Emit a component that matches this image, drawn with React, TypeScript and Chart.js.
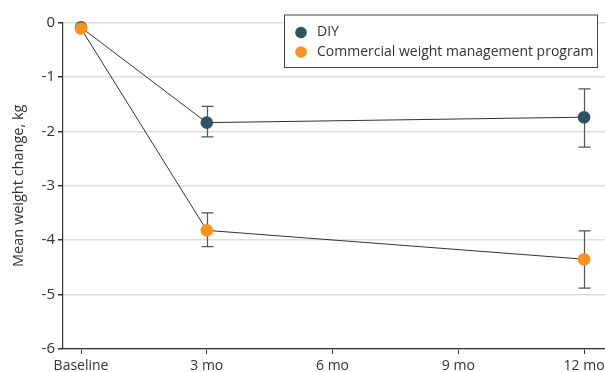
import React, { useEffect, useRef } from "react";
import { Chart, registerables } from "chart.js";

Chart.register(...registerables);

const months = [0, 3, 12];
const diyMean = [-0.09, -1.84, -1.74];
const diyLower = [null, -2.1, -2.29];
const diyUpper = [null, -1.54, -1.22];
const cwmpMean = [-0.11, -3.82, -4.35];
const cwmpLower = [null, -4.12, -4.88];
const cwmpUpper = [null, -3.5, -3.83];

const xTickValues = [0, 3, 6, 9, 12];
const xTickLabels = ["Baseline", "3 mo", "6 mo", "9 mo", "12 mo"];
const yTickValues = [0, -1, -2, -3, -4, -5, -6];

const seriesNames = ["DIY", "Commercial weight management program"];
const seriesColors = ["#2d5463", "#f7941d"];

const FONT = "'Open Sans', sans-serif";

const errorBarPlugin = {
  id: "errorBars",
  beforeDatasetsDraw(chart: any) {
    const { ctx, scales } = chart;
    const x = scales.x;
    const y = scales.y;
    const sets = [
      { lo: diyLower, hi: diyUpper },
      { lo: cwmpLower, hi: cwmpUpper },
    ];
    ctx.save();
    ctx.strokeStyle = "#555555";
    ctx.lineWidth = 1.2;
    sets.forEach((s) => {
      months.forEach((m, i) => {
        const lo = s.lo[i];
        const hi = s.hi[i];
        if (lo == null || hi == null) return;
        const px = Math.round(x.getPixelForValue(m)) + 0.5;
        const py1 = y.getPixelForValue(lo);
        const py2 = y.getPixelForValue(hi);
        ctx.beginPath();
        ctx.moveTo(px, py1);
        ctx.lineTo(px, py2);
        ctx.moveTo(px - 6, py1);
        ctx.lineTo(px + 6, py1);
        ctx.moveTo(px - 6, py2);
        ctx.lineTo(px + 6, py2);
        ctx.stroke();
      });
    });
    ctx.restore();
  },
};

const legendPlugin = {
  id: "boxLegend",
  afterDraw(chart: any) {
    const { ctx } = chart;
    const left = 284;
    const top = 14.5;
    const right = 598;
    const bottom = 68;
    ctx.save();
    ctx.fillStyle = "#ffffff";
    ctx.fillRect(left, top, right - left, bottom - top);
    ctx.strokeStyle = "#444444";
    ctx.lineWidth = 1;
    ctx.strokeRect(left + 0.5, top + 0.5, right - left - 1, bottom - top - 1);
    ctx.font = `14px ${FONT}`;
    ctx.textBaseline = "middle";
    seriesNames.forEach((name, i) => {
      const cy = 32.5 + i * 19.5;
      ctx.beginPath();
      ctx.fillStyle = seriesColors[i];
      ctx.arc(301, cy, 5.8, 0, Math.PI * 2);
      ctx.fill();
      ctx.fillStyle = "#333333";
      ctx.fillText(name, 317, cy);
    });
    ctx.restore();
  },
};

export default function App() {
  const ref = useRef<HTMLCanvasElement>(null);
  useEffect(() => {
    document.body.style.margin = "0";
    const mk = (vals: number[]) => months.map((m, i) => ({ x: m, y: vals[i] }));
    const chart = new Chart(ref.current as HTMLCanvasElement, {
      type: "line",
      data: {
        datasets: [
          {
            label: seriesNames[0],
            data: mk(diyMean),
            borderColor: "#333333",
            borderWidth: 1,
            pointRadius: 6.3,
            pointBackgroundColor: seriesColors[0],
            pointBorderColor: seriesColors[0],
            pointBorderWidth: 0,
            order: 1,
            clip: 12,
          },
          {
            label: seriesNames[1],
            data: mk(cwmpMean),
            borderColor: "#333333",
            borderWidth: 1,
            pointRadius: 6.3,
            pointBackgroundColor: seriesColors[1],
            pointBorderColor: seriesColors[1],
            pointBorderWidth: 0,
            order: 0,
            clip: 12,
          },
        ],
      },
      options: {
        animation: false,
        responsive: false,
        maintainAspectRatio: false,
        layout: { autoPadding: false, padding: { top: 22.5, right: 0, left: 0, bottom: 0 } },
        plugins: {
          legend: { display: false },
          tooltip: { enabled: false },
        },
        scales: {
          x: {
            type: "linear",
            min: -0.43,
            max: 12.5,
            afterBuildTicks(scale: any) {
              scale.ticks = xTickValues.map((v) => ({ value: v }));
            },
            afterFit(scale: any) {
              scale.height = 23;
              scale.paddingLeft = 0;
              scale.paddingRight = 0;
            },
            grid: {
              display: true,
              drawOnChartArea: false,
              drawTicks: true,
              tickLength: 5,
              color: "#333333",
              lineWidth: 1,
            },
            border: { display: true, color: "#333333", width: 1.2 },
            ticks: {
              color: "#333333",
              font: { family: FONT, size: 14 },
              padding: 4,
              maxRotation: 0,
              autoSkip: false,
              callback: (v: any) => {
                const i = xTickValues.indexOf(v);
                return i >= 0 ? xTickLabels[i] : "";
              },
            },
          },
          y: {
            min: -6,
            max: 0,
            afterBuildTicks(scale: any) {
              scale.ticks = yTickValues.map((v) => ({ value: v }));
            },
            afterFit(scale: any) {
              scale.width = 63;
              scale.paddingTop = 0;
              scale.paddingBottom = 0;
            },
            grid: {
              color: "#dddddd",
              lineWidth: 1.5,
              tickLength: 5,
              tickColor: "#333333",
            },
            border: { display: true, color: "#333333", width: 1.2 },
            title: {
              display: true,
              text: "Mean weight change, kg",
              color: "#333333",
              font: { family: FONT, size: 14.5 },
              padding: { top: 10, bottom: 0 },
            },
            ticks: {
              color: "#333333",
              font: { family: FONT, size: 15 },
              padding: 3,
            },
          },
        },
      },
      plugins: [errorBarPlugin, legendPlugin],
    });
    return () => chart.destroy();
  }, []);
  return <canvas ref={ref} width={605} height={372} style={{ display: "block" }} />;
}
